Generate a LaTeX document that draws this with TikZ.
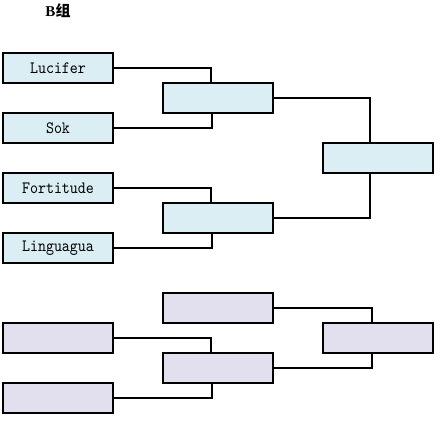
\documentclass[tikz,border=0pt]{standalone}
\usepackage{fontspec}
\newfontfamily\cjk{Noto Sans CJK SC}
\newfontfamily\titlefont{Liberation Serif}
\newfontfamily\boxfont[FakeStretch=0.88]{lmmono10-regular.otf}
\definecolor{bluefill}{HTML}{DAEEF3}
\definecolor{purplefill}{HTML}{E2E0EE}
\begin{document}
\begin{tikzpicture}[x=1pt,y=-1pt,
  box/.style={draw=black,line width=1.4pt,minimum width=110pt,minimum height=30pt,inner sep=0pt,anchor=center,font=\boxfont\fontsize{17.3}{17.3}\selectfont},
  bbox/.style={box,fill=bluefill},
  pbox/.style={box,fill=purplefill},
  conn/.style={draw=black,line width=1.1pt}]
\useasboundingbox (0,0) rectangle (441,421);
\node[font=\bfseries\fontsize{15}{15}\selectfont,inner sep=0pt] (title) at (58,11) {\titlefont B\cjk 组};
% group B top
\node[bbox] (luc) at (58,68) {Lucifer};
\node[bbox] (sok) at (58,128) {Sok};
\node[bbox] (fort) at (58,188) {Fortitude};
\node[bbox] (ling) at (58,248) {Linguagua};
\node[bbox] (s1) at (218,98) {};
\node[bbox] (s2) at (218,218) {};
\node[bbox] (fin) at (378,158) {};
\coordinate (j1) at (211,83);
\coordinate (j2) at (212,113);
\coordinate (j3) at (211,203);
\coordinate (j4) at (212,233);
\coordinate (j5) at (370,143);
\coordinate (j6) at (370,173);
\draw[conn] (luc.east) -| (j1);
\draw[conn] (sok.east) -| (j2);
\draw[conn] (fort.east) -| (j3);
\draw[conn] (ling.east) -| (j4);
\draw[conn] (s1.east) -| (j5);
\draw[conn] (s2.east) -| (j6);
% bottom group
\node[pbox] (pa) at (218,308) {};
\node[pbox] (pl1) at (58,338) {};
\node[pbox] (pm) at (218,368) {};
\node[pbox] (pl2) at (58,398) {};
\node[pbox] (pr) at (378,338) {};
\coordinate (k1) at (211,353);
\coordinate (k2) at (212,383);
\coordinate (k3) at (372,323);
\coordinate (k4) at (372,353);
\draw[conn] (pl1.east) -| (k1);
\draw[conn] (pl2.east) -| (k2);
\draw[conn] (pa.east) -| (k3);
\draw[conn] (pm.east) -| (k4);
\end{tikzpicture}
\end{document}
